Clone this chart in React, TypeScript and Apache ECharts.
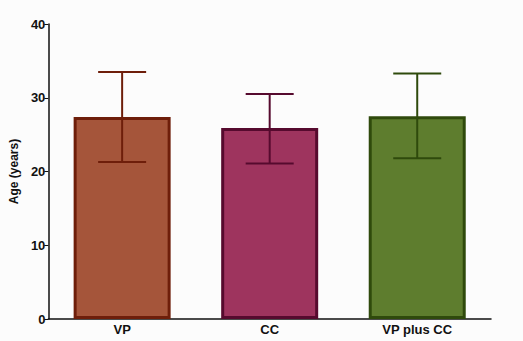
import React, { useEffect, useRef } from "react";
import * as echarts from "echarts";

const categories = ["VP", "CC", "VP plus CC"];
const means = [27.4, 25.9, 27.5];
const errLow = [21.3, 21.1, 21.8];
const errHigh = [33.5, 30.5, 33.3];
const fillColors = ["#a5553a", "#9e345e", "#5e7d2e"];
const edgeColors = ["#6e1e0a", "#560a2e", "#2f4a0c"];
const yTicks = { min: 0, max: 40, interval: 10 };

export default function App() {
  const ref = useRef<HTMLDivElement>(null);
  useEffect(() => {
    if (!ref.current) return;
    const chart = echarts.init(ref.current, undefined, { renderer: "svg" });
    const font = "'Liberation Sans', Arial, sans-serif";
    chart.setOption({
      animation: false,
      backgroundColor: "#fcfcfc",
      grid: { left: 45, right: 32, top: 24, bottom: 22 },
      xAxis: {
        type: "category",
        data: categories,
        axisLine: { lineStyle: { color: "#111", width: 1.5 } },
        axisTick: { alignWithLabel: true, length: 3, lineStyle: { color: "#111" } },
        axisLabel: { color: "#111", fontWeight: "bold", fontSize: 13, fontFamily: font, margin: 4 },
      },
      yAxis: {
        type: "value",
        min: yTicks.min,
        max: yTicks.max,
        interval: yTicks.interval,
        name: "Age (years)",
        nameLocation: "middle",
        nameGap: 27,
        nameTextStyle: { color: "#111", fontWeight: "bold", fontSize: 12, fontFamily: font },
        axisLine: { show: true, lineStyle: { color: "#111", width: 1.5 } },
        axisTick: { show: true, length: 4, inside: false, lineStyle: { color: "#111" } },
        splitLine: { show: false },
        axisLabel: { color: "#111", fontWeight: "bold", fontSize: 13, fontFamily: font, margin: 3 },
      },
      series: [
        {
          type: "bar",
          barWidth: 97,
          data: means.map((v, i) => ({
            value: v,
            itemStyle: { color: fillColors[i], borderColor: edgeColors[i], borderWidth: 3 },
          })),
        },
        {
          type: "custom",
          data: categories.map((_, i) => [i, errLow[i], errHigh[i]]),
          renderItem: (params: any, api: any) => {
            const i = api.value(0);
            const lo = api.coord([i, api.value(1)]);
            const hi = api.coord([i, api.value(2)]);
            const half = 24;
            const style = { stroke: edgeColors[params.dataIndex], lineWidth: 2 };
            return {
              type: "group",
              children: [
                { type: "line", shape: { x1: hi[0], y1: hi[1], x2: lo[0], y2: lo[1] }, style },
                { type: "line", shape: { x1: hi[0] - half, y1: hi[1], x2: hi[0] + half, y2: hi[1] }, style },
                { type: "line", shape: { x1: lo[0] - half, y1: lo[1], x2: lo[0] + half, y2: lo[1] }, style },
              ],
            };
          },
          z: 5,
        },
      ],
    });
    return () => chart.dispose();
  }, []);
  return (
    <div
      ref={ref}
      style={{ position: "fixed", left: 0, top: 0, width: 523, height: 341 }}
    />
  );
}
